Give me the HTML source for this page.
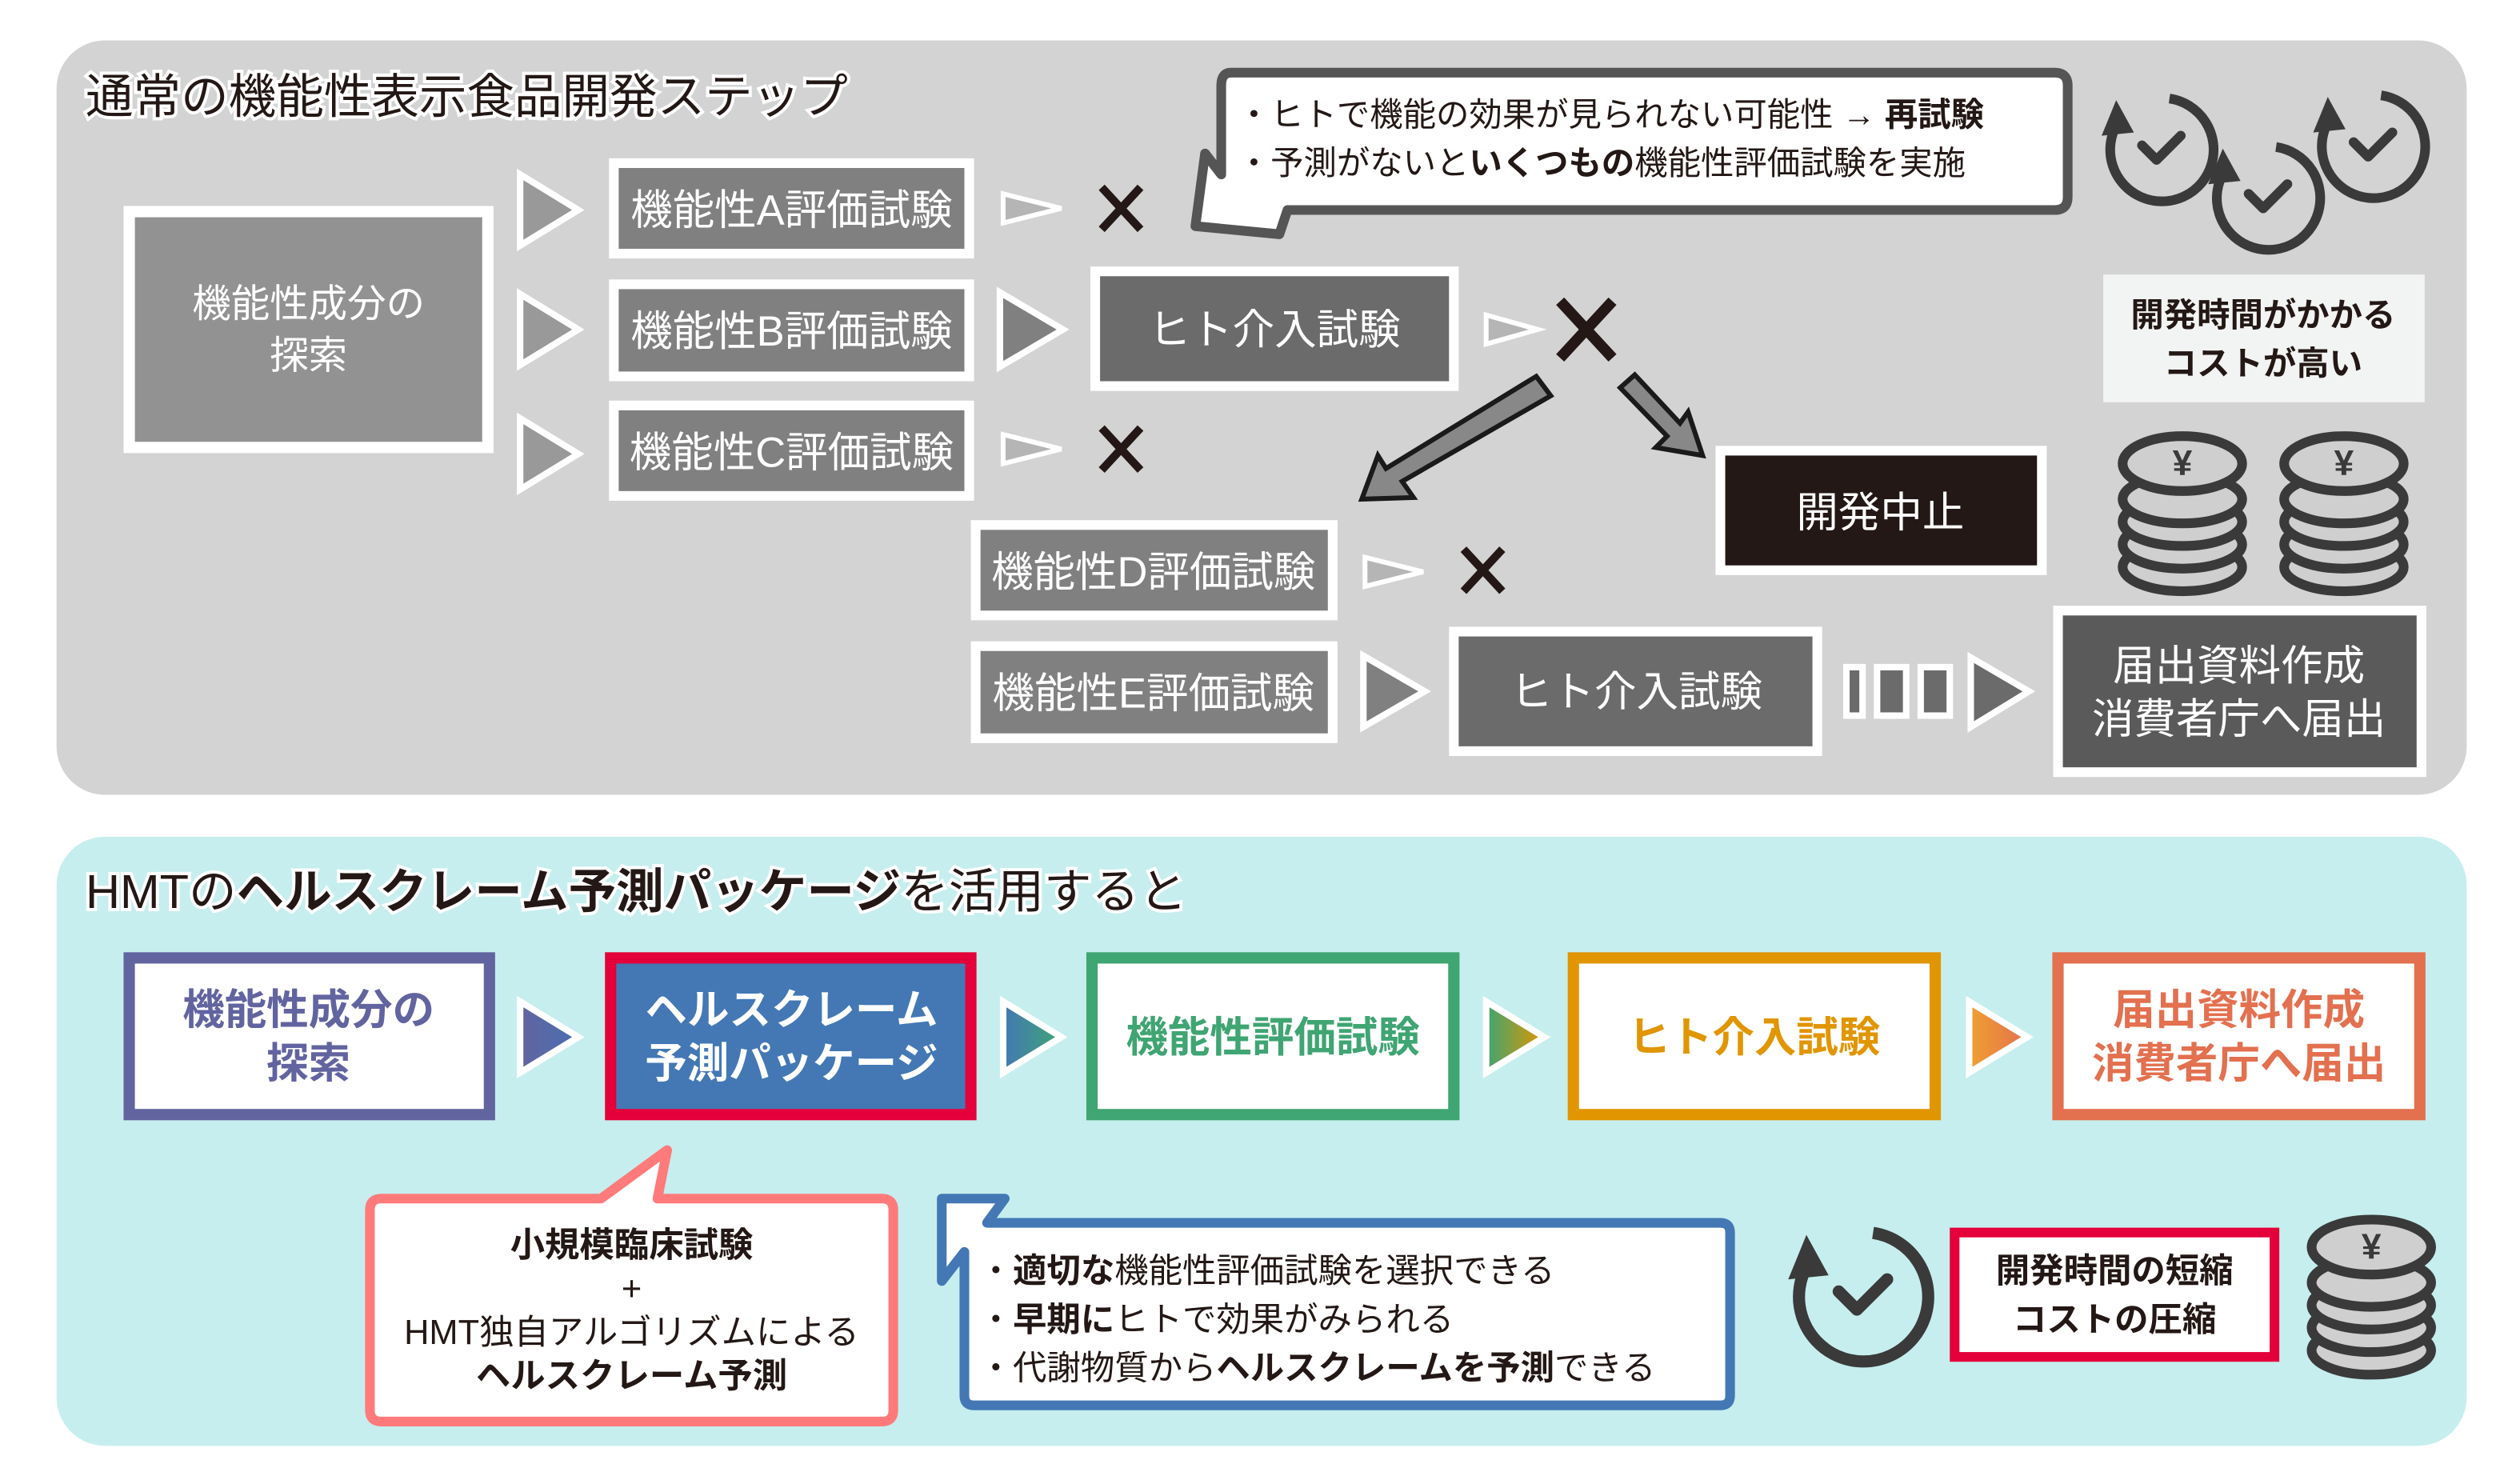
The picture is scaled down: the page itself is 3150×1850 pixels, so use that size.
<!DOCTYPE html>
<html><head><meta charset="utf-8">
<style>
html,body{margin:0;padding:0;background:#fff;}
svg{display:block;}
text{font-family:"Liberation Sans","Noto Sans CJK JP",sans-serif;}
</style></head><body>
<svg width="3150" height="1850" viewBox="0 0 1560 916.2" preserveAspectRatio="none" xmlns="http://www.w3.org/2000/svg">
<defs>
<linearGradient id="g1" x1="0" x2="1"><stop offset="0" stop-color="#6264a0"/><stop offset="1" stop-color="#4a6fb0"/></linearGradient>
<linearGradient id="g2" x1="0" x2="1"><stop offset="0" stop-color="#4378b5"/><stop offset="1" stop-color="#3fa572"/></linearGradient>
<linearGradient id="g3" x1="0" x2="1"><stop offset="0" stop-color="#3fa572"/><stop offset="1" stop-color="#e19500"/></linearGradient>
<linearGradient id="g4" x1="0" x2="1"><stop offset="0" stop-color="#f0a030"/><stop offset="1" stop-color="#e3704f"/></linearGradient>
<g id="clock">
<path d="M-26,-16 A32,32 0 1 0 6,-31" fill="none" stroke="#3a3a3a" stroke-width="6"/>
<path d="M-36,-8 L-27,-30 L-16,-10 Z" fill="#3a3a3a"/>
<path d="M-11,-2 L-2,7 L13,-8" fill="none" stroke="#3a3a3a" stroke-width="6" stroke-linecap="round" stroke-linejoin="round"/>
</g>
<g id="coins" stroke="#3a3a3a" stroke-width="6" fill="#cfcfcf">
<ellipse cx="0" cy="64" rx="37" ry="15"/>
<ellipse cx="0" cy="50" rx="37" ry="15"/>
<ellipse cx="0" cy="36" rx="37" ry="15"/>
<ellipse cx="0" cy="22" rx="37" ry="15"/>
<ellipse cx="0" cy="0" rx="37" ry="17"/>
<text x="0" y="7" text-anchor="middle" font-size="22" font-weight="bold" fill="#3a3a3a" stroke="none">¥</text>
</g>
<g id="x"><path d="M-12,-13 L12,13 M12,-13 L-12,13" stroke="#231815" stroke-width="5"/></g>
</defs>

<!-- TOP PANEL -->
<rect x="35" y="25" width="1492" height="467" rx="30" fill="#d3d3d3"/>
<text x="53" y="70" font-size="29.5" fill="#231815" stroke="#fff" stroke-width="4" paint-order="stroke">通常の機能性表示食品開発ステップ</text>

<rect x="80" y="131" width="222" height="146" fill="#929292" stroke="#fff" stroke-width="7"/>
<text x="191" y="196" font-size="24" fill="#fff" text-anchor="middle">機能性成分の</text>
<text x="191" y="228" font-size="24" fill="#fff" text-anchor="middle">探索</text>

<g fill="#999" stroke="#fff" stroke-width="4">
<path d="M322,108 L358,130 L322,152 Z"/>
<path d="M322,182 L358,204 L322,226 Z"/>
<path d="M322,259 L358,281 L322,303 Z"/>
</g>
<g fill="#808080" stroke="#fff" stroke-width="6">
<rect x="380" y="101" width="220" height="56"/>
<rect x="380" y="176" width="220" height="57"/>
<rect x="380" y="251" width="220" height="56"/>
</g>
<g font-size="26" fill="#fff" text-anchor="middle">
<text x="490" y="139">機能性A評価試験</text>
<text x="490" y="214">機能性B評価試験</text>
<text x="490" y="289">機能性C評価試験</text>
</g>
<g fill="#b5b5b5" stroke="#fff" stroke-width="3">
<path d="M621,120 L657,129 L621,138 Z"/>
<path d="M621,269 L657,278 L621,287 Z"/>
<path d="M920,195 L952,204 L920,213 Z"/>
<path d="M845,345 L881,354 L845,363 Z"/>
</g>
<use href="#x" x="694" y="129"/>
<use href="#x" x="694" y="278"/>
<use href="#x" x="918" y="353"/>
<g transform="translate(982,204) scale(1.35)"><use href="#x"/></g>

<path d="M619,181 L658,204 L619,227 Z" fill="#808080" stroke="#fff" stroke-width="4"/>
<rect x="678" y="168" width="222" height="71" fill="#6b6b6b" stroke="#fff" stroke-width="6"/>
<text x="789" y="213" font-size="26" fill="#fff" text-anchor="middle">ヒト介入試験</text>

<path d="M951,233 L960,245 L868,298 L875,308 L843,309 L853,282 L858,290 Z" fill="#888" stroke="#1a1a1a" stroke-width="3"/>
<path d="M1003,240 L1012,232 L1040,262 L1045,255 L1054,282 L1025,277 L1032,270 Z" fill="#888" stroke="#1a1a1a" stroke-width="3"/>

<rect x="1065" y="279" width="199" height="74" fill="#231815" stroke="#fff" stroke-width="6"/>
<text x="1164" y="326" font-size="26" fill="#fff" text-anchor="middle">開発中止</text>

<g fill="#808080" stroke="#fff" stroke-width="6">
<rect x="604" y="325" width="221" height="56"/>
<rect x="604" y="400" width="221" height="57"/>
</g>
<g font-size="26" fill="#fff" text-anchor="middle">
<text x="714" y="363">機能性D評価試験</text>
<text x="714" y="438">機能性E評価試験</text>
</g>
<path d="M844,406 L882,428 L844,450 Z" fill="#808080" stroke="#fff" stroke-width="4"/>
<rect x="900" y="391" width="225" height="74" fill="#6b6b6b" stroke="#fff" stroke-width="6"/>
<text x="1013" y="437" font-size="26" fill="#fff" text-anchor="middle">ヒト介入試験</text>
<g fill="#6b6b6b" stroke="#fff" stroke-width="4">
<rect x="1143" y="413" width="10" height="30"/>
<rect x="1162" y="413" width="18" height="30"/>
<rect x="1189" y="413" width="18" height="30"/>
<path d="M1220,407 L1256,428 L1220,450 Z"/>
</g>
<rect x="1274" y="378" width="225" height="100" fill="#5a5a5a" stroke="#fff" stroke-width="6"/>
<text x="1386" y="421" font-size="26" fill="#fff" text-anchor="middle">届出資料作成</text>
<text x="1386" y="454" font-size="26" fill="#fff" text-anchor="middle">消費者庁へ届出</text>

<path d="M762,45 H1272 Q1280,45 1280,53 V122 Q1280,130 1272,130 H797 L792,145 L740,140 L746,95 L756,108 V53 Q756,45 762,45 Z" fill="#fff" stroke="#555" stroke-width="6" stroke-linejoin="round"/>
<text x="766" y="78" font-size="20.5" fill="#231815">・ヒトで機能の効果が見られない可能性 → <tspan font-weight="bold">再試験</tspan></text>
<text x="766" y="108" font-size="20.5" fill="#231815">・予測がないと<tspan font-weight="bold">いくつもの</tspan>機能性評価試験を実施</text>

<use href="#clock" x="1337" y="92"/>
<use href="#clock" x="1403" y="122"/>
<use href="#clock" x="1468" y="90"/>

<rect x="1302" y="170" width="199" height="79" fill="#f2f4f3"/>
<text x="1401" y="202" font-size="20.5" font-weight="bold" fill="#231815" text-anchor="middle">開発時間がかかる</text>
<text x="1401" y="232" font-size="20.5" font-weight="bold" fill="#231815" text-anchor="middle">コストが高い</text>

<use href="#coins" x="1351" y="287"/>
<use href="#coins" x="1451" y="287"/>

<!-- BOTTOM PANEL -->
<rect x="35" y="518" width="1492" height="377" rx="30" fill="#c6eeee"/>
<text x="53" y="562" font-size="29.5" fill="#231815" stroke="#fff" stroke-width="4" paint-order="stroke">HMTの<tspan font-weight="bold">ヘルスクレーム予測パッケージ</tspan>を活用すると</text>

<rect x="80" y="593" width="223" height="97" fill="#fff" stroke="#6264a0" stroke-width="7"/>
<rect x="378" y="593" width="223" height="97" fill="#4378b5" stroke="#e4003a" stroke-width="7"/>
<rect x="676" y="593" width="224" height="97" fill="#fff" stroke="#3fa572" stroke-width="7"/>
<rect x="974" y="593" width="224" height="97" fill="#fff" stroke="#e19500" stroke-width="7"/>
<rect x="1274" y="593" width="224" height="97" fill="#fff" stroke="#e3704f" stroke-width="7"/>
<g font-size="26" font-weight="bold" text-anchor="middle">
<text x="191" y="634" fill="#6264a0">機能性成分の</text>
<text x="191" y="667" fill="#6264a0">探索</text>
<text x="490" y="634" fill="#fff">ヘルスクレーム</text>
<text x="490" y="667" fill="#fff">予測パッケージ</text>
<text x="788" y="651" fill="#3fa572">機能性評価試験</text>
<text x="1086" y="651" fill="#e19500">ヒト介入試験</text>
<text x="1386" y="634" fill="#e3704f">届出資料作成</text>
<text x="1386" y="667" fill="#e3704f">消費者庁へ届出</text>
</g>
<g stroke="#fff" stroke-width="4">
<path d="M322,620 L358,642 L322,664 Z" fill="url(#g1)"/>
<path d="M621,620 L657,642 L621,664 Z" fill="url(#g2)"/>
<path d="M920,620 L956,642 L920,664 Z" fill="url(#g3)"/>
<path d="M1219,620 L1255,642 L1219,664 Z" fill="url(#g4)"/>
</g>

<path d="M236,742 H372 L413,712 L407,742 H546 Q553,742 553,749 V873 Q553,880 546,880 H236 Q229,880 229,873 V749 Q229,742 236,742 Z" fill="#fff" stroke="#ff7a7a" stroke-width="6" stroke-linejoin="round"/>
<g font-size="21.5" fill="#231815" text-anchor="middle">
<text x="391" y="778" font-weight="bold">小規模臨床試験</text>
<text x="391" y="805">+</text>
<text x="391" y="832">HMT独自アルゴリズムによる</text>
<text x="391" y="859" font-weight="bold">ヘルスクレーム予測</text>
</g>

<path d="M583,742 H622 L611,757 H1065 Q1071,757 1071,763 V864 Q1071,870 1065,870 H603 Q597,870 597,864 V775 L583,793 Z" fill="#fff" stroke="#4378b5" stroke-width="6" stroke-linejoin="round"/>
<g font-size="21" fill="#231815">
<text x="606" y="794">・<tspan font-weight="bold">適切な</tspan>機能性評価試験を選択できる</text>
<text x="606" y="824">・<tspan font-weight="bold">早期に</tspan>ヒトで効果がみられる</text>
<text x="606" y="854">・代謝物質から<tspan font-weight="bold">ヘルスクレームを予測</tspan>できる</text>
</g>

<g transform="translate(1152,802) scale(1.25)"><use href="#clock"/></g>

<rect x="1210" y="763" width="198" height="77" fill="#fff" stroke="#e4003a" stroke-width="6"/>
<text x="1309" y="794" font-size="21" font-weight="bold" fill="#231815" text-anchor="middle">開発時間の短縮</text>
<text x="1309" y="824" font-size="21" font-weight="bold" fill="#231815" text-anchor="middle">コストの圧縮</text>

<use href="#coins" x="1468" y="772"/>
</svg>
</body></html>
